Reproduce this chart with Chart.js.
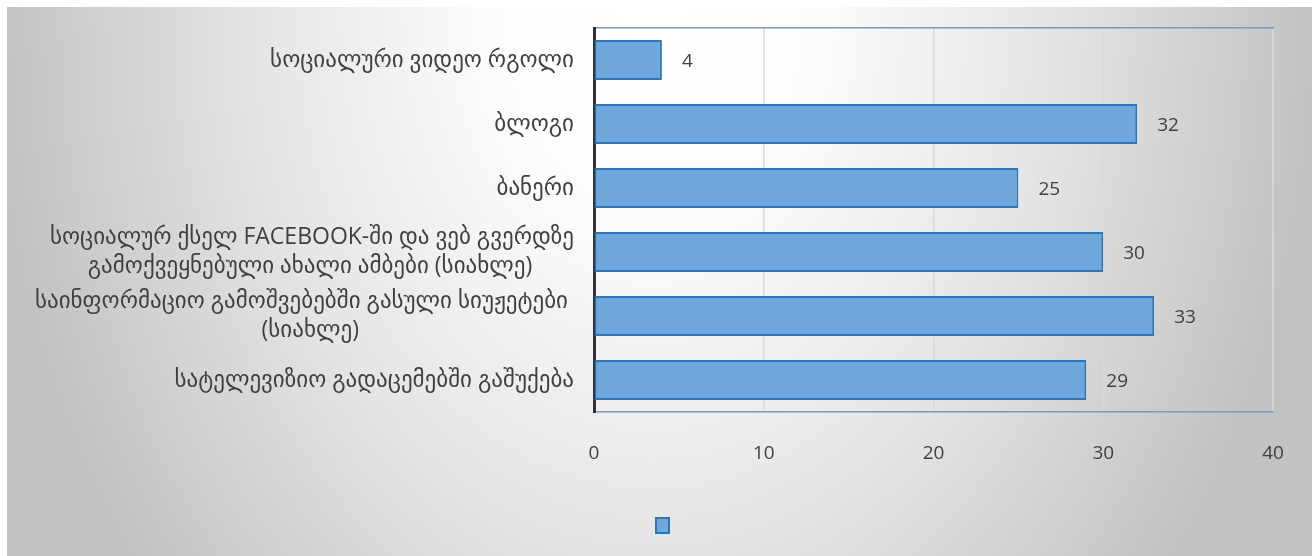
<!DOCTYPE html>
<html>
<head>
<meta charset="utf-8">
<script src="https://cdn.jsdelivr.net/npm/chart.js@4.4.1/dist/chart.umd.min.js"></script>
<style>
  html, body { margin: 0; padding: 0; background: #ffffff; width: 1312px; height: 556px; overflow: hidden; }
  #wrap { position: absolute; left: 7px; top: 7px; width: 1305px; height: 549px; }
</style>
</head>
<body>
<div id="wrap"><canvas id="c" width="1305" height="549"></canvas></div>
<script>
const categories = [
  'სოციალური ვიდეო რგოლი',
  'ბლოგი',
  'ბანერი',
  ['სოციალურ ქსელ FACEBOOK-ში და ვებ გვერდზე', 'გამოქვეყნებული ახალი ამბები (სიახლე)'],
  ['საინფორმაციო გამოშვებებში გასული სიუჟეტები ', '(სიახლე)'],
  'სატელევიზიო გადაცემებში გაშუქება'
];
const values = [4, 32, 25, 30, 33, 29];
const xMin = 0, xMax = 40, xStep = 10;

const FONT_FAMILY = '"Open Sans", "DejaVu Sans", sans-serif';
const LABEL_SIZE = 23;
const NUM_SIZE = 19;

// Center the lines of wrapped labels relative to each other (as in the original),
// by padding shorter lines with trailing spaces; the block stays right-aligned.
const mctx = document.createElement('canvas').getContext('2d');
mctx.font = LABEL_SIZE + 'px ' + FONT_FAMILY;
const spaceW = mctx.measureText('\u00a0').width;
const shownLabels = categories.map(function (lab) {
  if (!Array.isArray(lab)) return lab;
  const trimmed = lab.map(function (l) { return l.replace(/\s+$/, ''); });
  const widths = trimmed.map(function (l) { return mctx.measureText(l).width; });
  const maxW = Math.max.apply(null, widths);
  return lab.map(function (l, i) {
    const n = Math.round((maxW - widths[i]) / 2 / spaceW);
    return l.replace(/\s+$/, '\u00a0') + '\u00a0'.repeat(n);
  });
});

const bgPlugin = {
  id: 'bg',
  beforeDraw(chart) {
    const ctx = chart.ctx, w = chart.width, h = chart.height;
    ctx.save();
    ctx.translate(w * 0.495, 0);
    ctx.scale(1, 1.35);
    const g = ctx.createRadialGradient(0, 0, 0, 0, 0, 665);
    g.addColorStop(0, '#ffffff');
    g.addColorStop(0.25, '#fcfcfc');
    g.addColorStop(0.6, '#e5e5e5');
    g.addColorStop(1, '#c2c2c2');
    ctx.fillStyle = g;
    ctx.fillRect(-w, -10, w * 2, h + 20);
    ctx.restore();
  }
};

const valueLabels = {
  id: 'valueLabels',
  afterDatasetsDraw(chart) {
    const ctx = chart.ctx;
    ctx.save();
    ctx.font = NUM_SIZE + 'px ' + FONT_FAMILY;
    ctx.fillStyle = '#404040';
    ctx.textAlign = 'left';
    ctx.textBaseline = 'middle';
    chart.data.datasets.forEach(function (ds, di) {
      chart.getDatasetMeta(di).data.forEach(function (el, i) {
        ctx.fillText(String(ds.data[i]), el.x + 20, el.y + 2);
      });
    });
    ctx.restore();
  }
};

new Chart(document.getElementById('c'), {
  type: 'bar',
  data: {
    labels: shownLabels,
    datasets: [{
      label: '',
      data: values,
      backgroundColor: '#70a7db',
      borderColor: '#2e75b6',
      borderWidth: 2,
      borderSkipped: false,
      barPercentage: 0.625,
      categoryPercentage: 1
    }]
  },
  options: {
    indexAxis: 'y',
    responsive: false,
    animation: false,
    layout: { padding: { left: 0, right: 0, top: 21, bottom: 13 } },
    plugins: {
      legend: {
        display: true,
        position: 'bottom',
        rtl: true,
        labels: {
          boxWidth: 13,
          boxHeight: 15,
          padding: 10,
          font: { size: 12, family: FONT_FAMILY },
          generateLabels: function (chart) {
            return [{ text: '', fillStyle: '#70a7db', strokeStyle: '#2e75b6', lineWidth: 2, datasetIndex: 0 }];
          }
        }
      },
      tooltip: { enabled: false }
    },
    scales: {
      x: {
        min: xMin, max: xMax,
        ticks: { stepSize: xStep, padding: 30, color: '#404040', font: { size: NUM_SIZE, family: FONT_FAMILY } },
        grid: { color: '#d9d9d9', lineWidth: 1.5, drawTicks: false },
        border: { display: true, color: '#8497b0', width: 1.5 },
        afterFit: function (s) { s.height = 96; s.paddingLeft = 0; s.paddingRight = 0; }
      },
      x2: {
        position: 'top',
        min: xMin, max: xMax,
        ticks: { display: false },
        grid: { display: false, drawTicks: false },
        border: { display: true, color: '#8497b0', width: 1.5 },
        afterFit: function (s) { s.height = 0; s.paddingLeft = 0; s.paddingRight = 0; }
      },
      y: {
        ticks: { padding: 20, color: '#404040', font: { size: LABEL_SIZE, family: FONT_FAMILY, lineHeight: 1.3 } },
        grid: { display: false, drawTicks: false },
        border: { display: true, color: '#333333', width: 3 },
        afterFit: function (s) { s.width = 587; s.paddingTop = 0; s.paddingBottom = 0; }
      },
      yRight: {
        type: 'linear',
        position: 'right',
        display: true,
        ticks: { display: false },
        grid: { display: false, drawTicks: false },
        border: { display: false },
        afterFit: function (s) { s.width = 39; s.paddingTop = 0; s.paddingBottom = 0; }
      }
    }
  },
  plugins: [bgPlugin, valueLabels]
});
</script>
</body>
</html>
